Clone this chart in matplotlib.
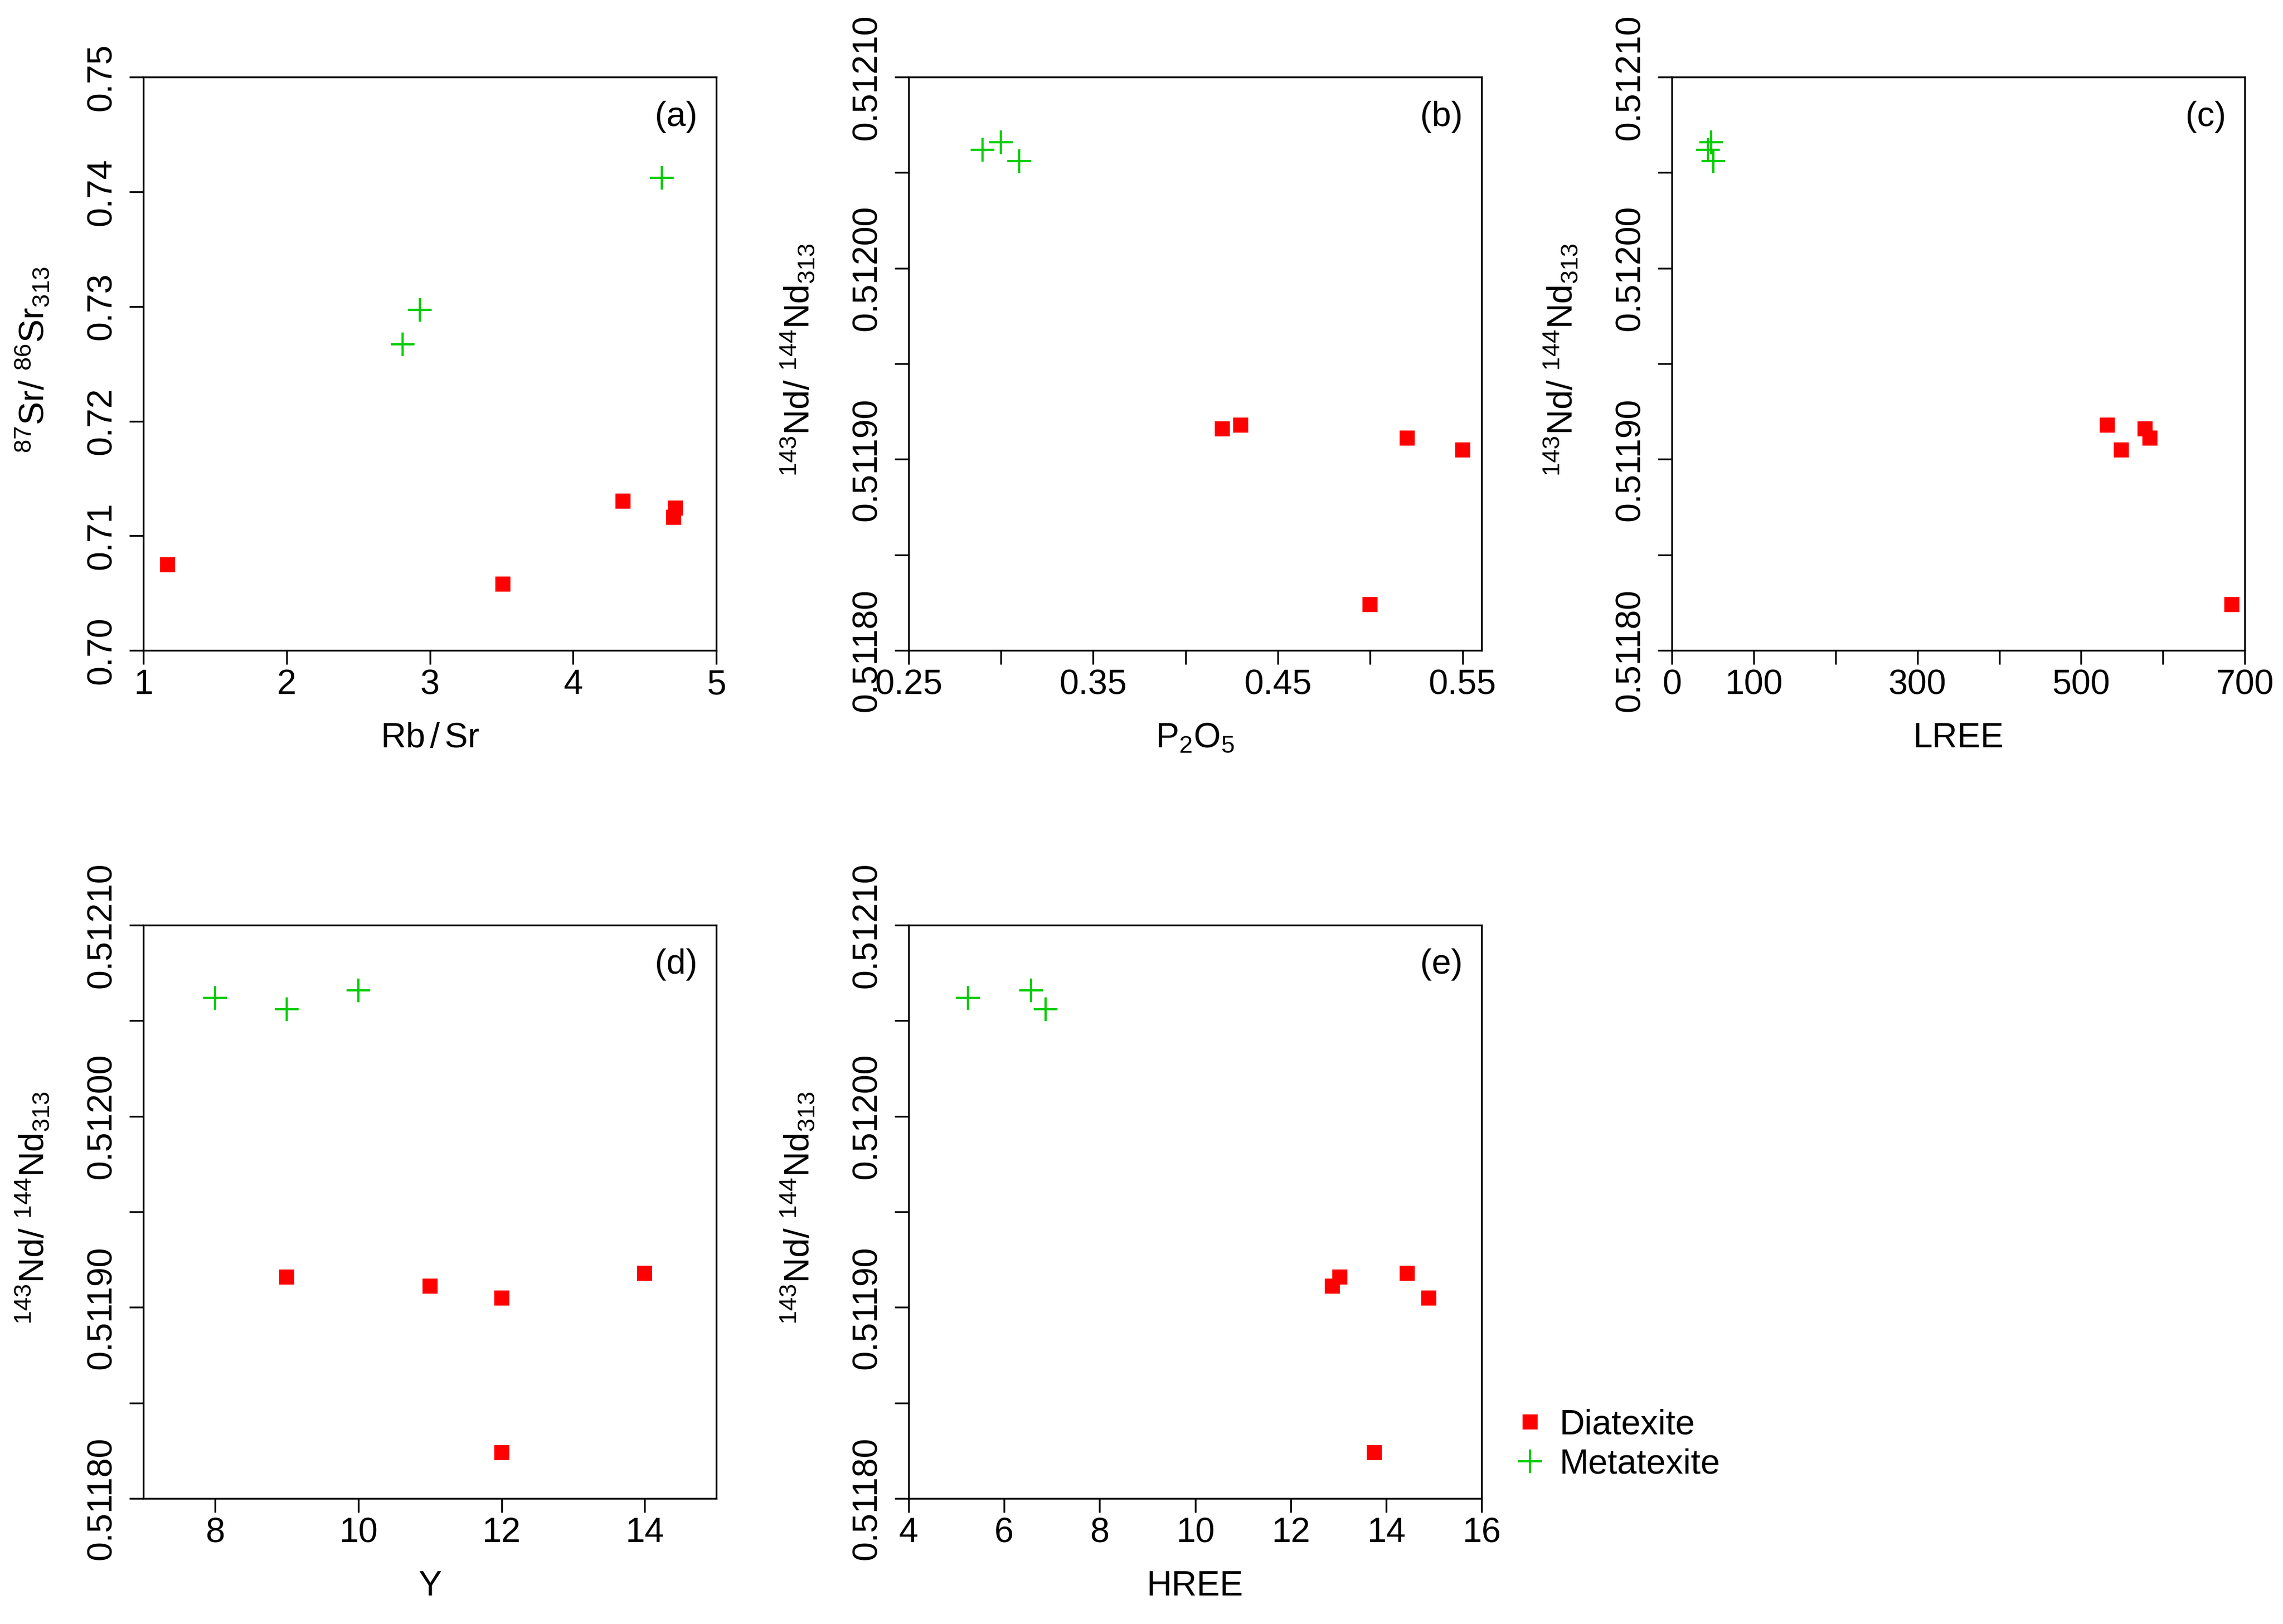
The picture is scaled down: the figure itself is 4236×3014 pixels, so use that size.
import matplotlib
matplotlib.use("Agg")
import matplotlib.pyplot as plt
from matplotlib.lines import Line2D

plt.rcParams['font.family'] = ['Liberation Sans', 'DejaVu Sans']
plt.rcParams['mathtext.fontset'] = 'custom'
plt.rcParams['mathtext.rm'] = 'Liberation Sans'
plt.rcParams['mathtext.it'] = 'Liberation Sans:italic'
plt.rcParams['mathtext.default'] = 'regular'
plt.rcParams['font.size'] = 15.5

# diatexite samples (same order in every Nd panel)
nd_dia = [0.511916, 0.511918, 0.511911, 0.511905, 0.511824]
p2o5_dia = [0.42, 0.43, 0.52, 0.55, 0.50]
lree_dia = [578, 532, 584, 549, 684]
y_dia = [9, 14, 11, 12, 12]
hree_dia = [13.03, 14.44, 12.87, 14.89, 13.75]
# metatexite samples
nd_meta = [0.512062, 0.512066, 0.512056]
p2o5_meta = [0.29, 0.30, 0.31]
lree_meta = [44, 48, 51]
y_meta = [8, 10, 9]
hree_meta = [5.24, 6.56, 6.87]
# Sr panel
rbsr_dia = [1.17, 3.51, 4.35, 4.70, 4.714]
sr_dia = [0.7075, 0.7058, 0.7130, 0.7116, 0.7124]
rbsr_meta = [2.81, 2.93, 4.62]
sr_meta = [0.7267, 0.7297, 0.7412]

nd_ticks = [0.51180, 0.51185, 0.51190, 0.51195, 0.51200, 0.51205, 0.51210]
nd_labels = ['0.51180', '', '0.51190', '', '0.51200', '', '0.51210']
sr_ticks = [0.70, 0.71, 0.72, 0.73, 0.74, 0.75]
sr_labels = ['0.70', '0.71', '0.72', '0.73', '0.74', '0.75']

RED = '#FF0000'
GREEN = '#00CD00'

nd_lab = r'$^{143}$Nd/ $^{144}$Nd$_{313}$'
sr_lab = r'$^{87}$Sr/ $^{86}$Sr$_{313}$'

fig = plt.figure(figsize=(4236 / 300, 3014 / 300), dpi=300)

lefts = [0.0628, 0.398, 0.7323]
w, h = 0.251, 0.353
b_top, b_bot = 0.5995, 0.0773


def panel(pos, xd, yd, xm, ym, xlim, xticks, xlabels, ylim, yticks, ylabels,
          xlabel, ylabel, tag):
    ax = fig.add_axes(pos)
    ax.plot(xd, yd, 's', color=RED, ms=6.5, mew=0, ls='none')
    ax.plot(xm, ym, '+', color=GREEN, ms=10.5, mew=1.0, ls='none')
    ax.set_xlim(xlim)
    ax.set_ylim(ylim)
    ax.set_xticks(xticks)
    ax.set_xticklabels(xlabels)
    ax.set_yticks(yticks)
    ax.set_yticklabels(ylabels, rotation=90, va='center')
    ax.tick_params(length=6.2, width=0.8, direction='out')
    ax.tick_params(axis='x', pad=2)
    ax.tick_params(axis='y', pad=5)
    for s in ax.spines.values():
        s.set_linewidth(0.8)
    ax.set_xlabel(xlabel, va='center')
    ax.xaxis.set_label_coords(0.5, -0.153)
    ax.set_ylabel(ylabel, va='center')
    ax.yaxis.set_label_coords(-0.194, 0.507)
    ax.text(0.967, 0.931, tag, transform=ax.transAxes, ha='right', va='center')
    return ax


panel([lefts[0], b_top, w, h], rbsr_dia, sr_dia, rbsr_meta, sr_meta,
      (1, 5), [1, 2, 3, 4, 5], ['1', '2', '3', '4', '5'],
      (0.70, 0.75), sr_ticks, sr_labels, r'Rb$\,$/$\,$Sr', sr_lab, '(a)')

panel([lefts[1], b_top, w, h], p2o5_dia, nd_dia, p2o5_meta, nd_meta,
      (0.25, 0.5604), [0.25, 0.30, 0.35, 0.40, 0.45, 0.50, 0.55],
      ['0.25', '', '0.35', '', '0.45', '', '0.55'],
      (0.51180, 0.51210), nd_ticks, nd_labels, r'P$_2$O$_5$', nd_lab, '(b)')

panel([lefts[2], b_top, w, h], lree_dia, nd_dia, lree_meta, nd_meta,
      (0, 700), [0, 100, 200, 300, 400, 500, 600, 700],
      ['0', '100', '', '300', '', '500', '', '700'],
      (0.51180, 0.51210), nd_ticks, nd_labels, 'LREE', nd_lab, '(c)')

panel([lefts[0], b_bot, w, h], y_dia, nd_dia, y_meta, nd_meta,
      (7, 15), [8, 10, 12, 14], ['8', '10', '12', '14'],
      (0.51180, 0.51210), nd_ticks, nd_labels, 'Y', nd_lab, '(d)')

panel([lefts[1], b_bot, w, h], hree_dia, nd_dia, hree_meta, nd_meta,
      (4, 16), [4, 6, 8, 10, 12, 14, 16],
      ['4', '6', '8', '10', '12', '14', '16'],
      (0.51180, 0.51210), nd_ticks, nd_labels, 'HREE', nd_lab, '(e)')

handles = [Line2D([], [], marker='s', color=RED, ms=6.5, mew=0, ls='none'),
           Line2D([], [], marker='+', color=GREEN, ms=10.5, mew=1.0, ls='none')]
fig.legend(handles, ['Diatexite', 'Metatexite'], loc='center left',
           bbox_to_anchor=(0.655, 0.1104), frameon=False, borderpad=0,
           handlelength=1.0, handletextpad=0.35, labelspacing=0.2)

fig.savefig('out.png', dpi=300)
